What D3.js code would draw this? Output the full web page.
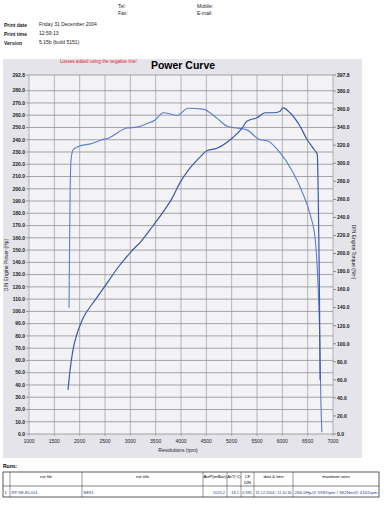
<!DOCTYPE html>
<html>
  <head>
    <meta charset="utf-8">
    <title>Power Curve</title>
    <script src="https://d3js.org/d3.v7.min.js"></script>
    <style>
      body { margin: 0; background: #fff; }
      svg { font-family: "Liberation Sans", Arial, sans-serif; }
    </style>
  </head>
  <body>
    <div id="chart"></div>
    <script>

      // torque run (Nm, right axis)
      const torqueRpm = [1790, 1800, 1810, 1830, 1870, 1950, 2240, 2440, 2580, 2780, 2930, 3130, 3330, 3490, 3650, 3920, 4140, 4430, 4710, 4910, 5100, 5300, 5560, 5700, 5950, 6210, 6400, 6550, 6650, 6700, 6740, 6760, 6780];
      const torqueNm = [140, 204, 259, 304, 315, 318, 322, 326, 328, 335, 339, 340, 344, 348, 356, 353, 361, 360, 350, 341, 339, 337, 326, 325, 312, 290, 267, 243, 215, 171, 104, 38, 2];

      // power run (Hp, left axis)
      const powerRpm = [1770, 1810, 1870, 1950, 2050, 2300, 2540, 2760, 3000, 3230, 3450, 3645, 3820, 3980, 4180, 4380, 4510, 4710, 4910, 5030, 5200, 5300, 5500, 5660, 5820, 5950, 6010, 6150, 6350, 6490, 6610, 6690, 6710, 6730, 6745];
      const powerHp = [36, 52, 69, 82, 93, 109, 123, 136, 148, 158, 170, 181, 192, 205, 217, 226, 231, 233, 238, 242, 249, 255, 258, 262, 262, 263, 266, 262, 251, 240, 233, 228, 191, 126, 44];

      const xTicks = d3.range(1000, 7001, 500);
      const leftTicks = d3.range(0, 281, 10);
      const rightTicks = d3.range(0, 381, 20);
      const leftMax = 292.8;
      const rightMax = 397.8;

      const tableHead = ['', 'run file', 'run title', 'AirP(mBar)', 'AirT(°C)', 'CF DIN', 'date & time', 'maximum rates'];
      const tableRow = ['1', 'RP-KE-80.014', 'BES1', '1025.2', '18.1', '0.985', '31-12-2004 / 11:10:36', '266.0Hp@ 5982rpm / 362Nm@ 4162rpm'];
      const colEdges = [3, 10, 82, 203, 227, 241, 254, 293, 379];

      const width = 384, height = 512;
      const svg = d3.select('#chart').append('svg')
        .attr('width', width)
        .attr('height', height);

      const plot = { left: 29, right: 333, top: 75, bottom: 434 };

      const x = d3.scaleLinear().domain([1000, 7000]).range([plot.left, plot.right]);
      const yL = d3.scaleLinear().domain([0, leftMax]).range([plot.bottom, plot.top]);
      const yR = d3.scaleLinear().domain([0, rightMax]).range([plot.bottom, plot.top]);

      // header
      const hdr = svg.append('g').style('font-size', '5px').attr('fill', '#222');
      hdr.append('text').attr('x', 118).attr('y', 8).text('Tel:');
      hdr.append('text').attr('x', 118).attr('y', 15).text('Fax:');
      hdr.append('text').attr('x', 197).attr('y', 8).text('Mobile:');
      hdr.append('text').attr('x', 197).attr('y', 15).text('E-mail:');
      [['Print date', 'Friday 31 December 2004', 27], ['Print time', '12:59:13', 36], ['Version', '5.15b (build 5151)', 45]]
        .forEach(r => {
          hdr.append('text').attr('x', 4).attr('y', r[2]).style('font-weight', 'bold').text(r[0]);
          hdr.append('text').attr('x', 39).attr('y', r[2] - 1).text(r[1]);
        });

      // grey panel + plot area
      svg.append('rect').attr('x', 3).attr('y', 59).attr('width', 359).attr('height', 399).attr('fill', '#e4e4ea');
      svg.append('rect').attr('x', plot.left).attr('y', plot.top)
        .attr('width', plot.right - plot.left).attr('height', plot.bottom - plot.top)
        .attr('fill', '#f3f3f6');

      svg.append('text').attr('x', 60).attr('y', 63).attr('fill', '#e0202a')
        .style('font-size', '4.6px').text('Losses added using the negative line!');
      svg.append('text').attr('x', 183).attr('y', 69).attr('text-anchor', 'middle')
        .style('font-size', '10.5px').style('font-weight', 'bold').text('Power Curve');

      // grid
      const grid = svg.append('g');
      grid.selectAll('.h').data(leftTicks.concat([leftMax])).enter().append('line')
        .attr('x1', plot.left - 3).attr('x2', plot.right)
        .attr('y1', d => yL(d)).attr('y2', d => yL(d))
        .attr('stroke', '#6e6e72').attr('stroke-width', 0.6);
      grid.selectAll('.v').data(xTicks).enter().append('line')
        .attr('x1', d => x(d)).attr('x2', d => x(d))
        .attr('y1', plot.top).attr('y2', plot.bottom + 2)
        .attr('stroke', '#8a8a90').attr('stroke-width', 0.6);

      // axes
      const axisText = svg.append('g').style('font-size', '5px').attr('fill', '#222');
      axisText.selectAll('.lt').data(leftTicks.concat([leftMax])).enter().append('text')
        .attr('x', plot.left - 4).attr('y', d => yL(d) + 1.8)
        .attr('text-anchor', 'end').style('font-weight', 'bold')
        .text(d => d.toFixed(1));
      axisText.selectAll('.rt').data(rightTicks.concat([rightMax])).enter().append('text')
        .attr('x', plot.right + 4).attr('y', d => yR(d) + 1.8)
        .style('font-weight', 'bold')
        .text(d => d.toFixed(1));
      svg.selectAll('.rtick').data(rightTicks.concat([rightMax])).enter().append('line')
        .attr('x1', plot.right).attr('x2', plot.right + 3)
        .attr('y1', d => yR(d)).attr('y2', d => yR(d))
        .attr('stroke', '#555').attr('stroke-width', 0.6);
      axisText.selectAll('.xt').data(xTicks).enter().append('text')
        .attr('x', d => x(d)).attr('y', plot.bottom + 9)
        .attr('text-anchor', 'middle')
        .text(d => d);

      axisText.append('text').attr('x', 178).attr('y', 452).attr('text-anchor', 'middle')
        .text('Revolutions (rpm)');
      axisText.append('text').attr('transform', 'translate(8,265) rotate(-90)')
        .attr('text-anchor', 'middle').text('DIN Engine Power (Hp)');
      axisText.append('text').attr('transform', 'translate(352,252) rotate(90)')
        .attr('text-anchor', 'middle').text('DIN Engine Torque (Nm)');

      // curves
      const torqueLine = d3.line()
        .x((d, i) => x(torqueRpm[i]))
        .y(d => yR(d))
        .curve(d3.curveMonotoneX);
      const powerLine = d3.line()
        .x((d, i) => x(powerRpm[i]))
        .y(d => yL(d))
        .curve(d3.curveMonotoneX);

      svg.append('path').datum(torqueNm)
        .attr('d', torqueLine)
        .attr('fill', 'none').attr('stroke', '#5a7fd0').attr('stroke-width', 1.1);
      svg.append('path').datum(powerHp)
        .attr('d', powerLine)
        .attr('fill', 'none').attr('stroke', '#3b5aa8').attr('stroke-width', 1.2);

      // runs table
      svg.append('text').attr('x', 3).attr('y', 468).style('font-size', '5px')
        .style('font-weight', 'bold').text('Runs:');
      const tbl = svg.append('g').style('font-size', '4px');
      tbl.append('rect').attr('x', 3).attr('y', 472).attr('width', 376).attr('height', 25)
        .attr('fill', '#fff').attr('stroke', '#333').attr('stroke-width', 0.8);
      tbl.append('line').attr('x1', 3).attr('x2', 379).attr('y1', 486).attr('y2', 486)
        .attr('stroke', '#333').attr('stroke-width', 0.6);
      tbl.selectAll('.col').data(colEdges.slice(1, -1)).enter().append('line')
        .attr('x1', d => d).attr('x2', d => d).attr('y1', 472).attr('y2', 497)
        .attr('stroke', '#333').attr('stroke-width', 0.5);
      tableHead.forEach((h, i) => {
        const cx = (colEdges[i] + colEdges[i + 1]) / 2;
        if (h === 'CF DIN') {
          tbl.append('text').attr('x', cx).attr('y', 478).attr('text-anchor', 'middle').text('CF');
          tbl.append('text').attr('x', cx).attr('y', 484).attr('text-anchor', 'middle').text('DIN');
        } else {
          const t = tbl.append('text').attr('x', cx).attr('y', 478).attr('text-anchor', 'middle').text(h);
          if (i === 3 || i === 4) t.attr('textLength', colEdges[i + 1] - colEdges[i] - 1).attr('lengthAdjust', 'spacingAndGlyphs');
        }
      });
      tableRow.forEach((v, i) => {
        const numeric = i >= 3 && i <= 5;
        const t = tbl.append('text')
          .attr('x', numeric ? colEdges[i + 1] - 2 : colEdges[i] + 1.5)
          .attr('y', 493.5)
          .attr('text-anchor', numeric ? 'end' : 'start')
          .attr('fill', i === 0 ? '#222' : '#2a3f9a')
          .text(v);
        if (i >= 6) t.attr('textLength', colEdges[i + 1] - colEdges[i] - 3).attr('lengthAdjust', 'spacingAndGlyphs');
      });

    </script>
  </body>
</html>
